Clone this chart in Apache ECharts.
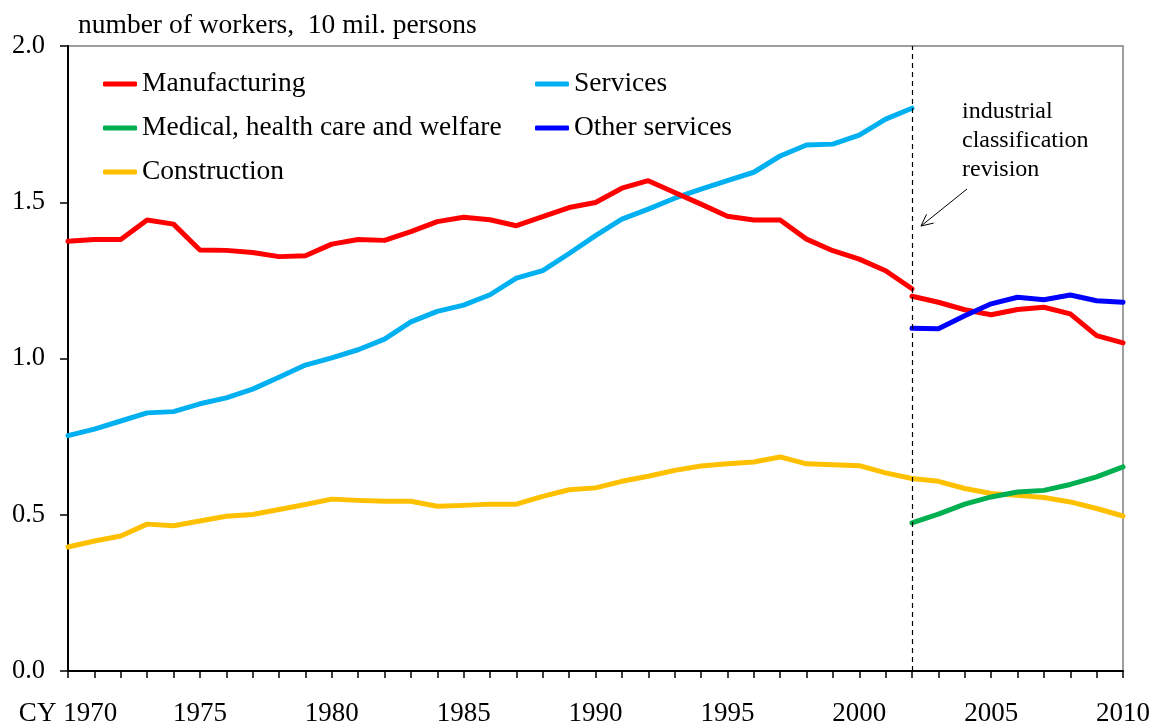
<!DOCTYPE html>
<html>
<head>
<meta charset="utf-8">
<script src="https://cdn.jsdelivr.net/npm/echarts@6/dist/echarts.min.js"></script>
<style>
  html, body { margin: 0; padding: 0; background: #fff; }
  #chart { width: 1155px; height: 722px; }
</style>
</head>
<body>
<div id="chart"></div>
<script>
// years on the x axis
const years = [];
for (let y = 1970; y <= 2010; y++) years.push(String(y));

// 10 mil. persons, old classification 1970-2002
const manufacturingOld = [1.375, 1.381, 1.381, 1.443, 1.430, 1.347, 1.346, 1.339, 1.326, 1.329,
  1.366, 1.381, 1.378, 1.406, 1.438, 1.452, 1.444, 1.425, 1.454, 1.483,
  1.499, 1.545, 1.569, 1.531, 1.494, 1.455, 1.443, 1.443, 1.382, 1.345,
  1.318, 1.281, 1.223];
const services = [0.753, 0.774, 0.800, 0.826, 0.830, 0.855, 0.874, 0.902, 0.940, 0.979,
  1.002, 1.028, 1.062, 1.117, 1.151, 1.171, 1.204, 1.257, 1.281, 1.336,
  1.393, 1.446, 1.478, 1.513, 1.542, 1.569, 1.596, 1.648, 1.683, 1.686,
  1.715, 1.766, 1.801];

// new classification 2002-2010
const manufacturingNew = [1.199, 1.180, 1.156, 1.140, 1.157, 1.164, 1.143, 1.073, 1.050];
const otherServices = [1.097, 1.095, 1.137, 1.175, 1.196, 1.188, 1.203, 1.185, 1.180];
const medical = [0.474, 0.502, 0.534, 0.557, 0.573, 0.578, 0.597, 0.621, 0.653];

// 1970-2010
const construction = [0.397, 0.416, 0.432, 0.470, 0.465, 0.480, 0.495, 0.501, 0.517, 0.533,
  0.550, 0.546, 0.543, 0.543, 0.527, 0.530, 0.534, 0.534, 0.559, 0.580,
  0.586, 0.607, 0.623, 0.642, 0.656, 0.663, 0.669, 0.685, 0.663, 0.660,
  0.657, 0.634, 0.616, 0.607, 0.584, 0.568, 0.562, 0.555, 0.541, 0.520,
  0.496];

const yTicks = [0, 0.5, 1.0, 1.5, 2.0];
const revisionYear = '2002';

const FONT = 'Liberation Serif';
const revIdx = years.indexOf(revisionYear);
const padEnd = arr => arr.concat(new Array(years.length - arr.length).fill(null));
const padStart = arr => new Array(revIdx).fill(null).concat(arr);

const lineSeries = (name, data, color) => ({
  name,
  type: 'line',
  data,
  symbol: 'none',
  connectNulls: false,
  lineStyle: { color, width: 5, cap: 'round', join: 'round' },
  itemStyle: { color },
  emphasis: { disabled: true }
});

const chart = echarts.init(document.getElementById('chart'), null, { renderer: 'canvas' });

// arrow pointing at the revision line
const arrowFrom = [967, 189];
const arrowTo = [921, 226];
const ang = Math.atan2(arrowTo[1] - arrowFrom[1], arrowTo[0] - arrowFrom[0]);
const headLen = 13;
const head = [
  [arrowTo[0] - headLen * Math.cos(ang - 0.45), arrowTo[1] - headLen * Math.sin(ang - 0.45)],
  arrowTo,
  [arrowTo[0] - headLen * Math.cos(ang + 0.45), arrowTo[1] - headLen * Math.sin(ang + 0.45)]
];

const legendText = { fontFamily: FONT, fontSize: 27.5, color: '#000', lineHeight: 27 };

chart.setOption({
  animation: false,
  backgroundColor: '#fff',
  grid: {
    left: 68, right: 32, top: 46, bottom: 51,
    outerBoundsMode: 'none',
    containLabel: false,
    show: true, borderColor: '#7f7f7f', borderWidth: 1.5, backgroundColor: 'transparent'
  },
  legend: [
    {
      orient: 'vertical', left: 103, top: 70, itemGap: 16, padding: 0,
      itemWidth: 34, itemHeight: 5, icon: 'roundRect',
      data: ['Manufacturing', 'Medical, health care and welfare', 'Construction'],
      textStyle: legendText
    },
    {
      orient: 'vertical', left: 535, top: 70, itemGap: 16, padding: 0,
      itemWidth: 34, itemHeight: 5, icon: 'roundRect',
      data: ['Services', 'Other services'],
      textStyle: legendText
    }
  ],
  xAxis: {
    type: 'category',
    data: years,
    boundaryGap: false,
    axisLine: { lineStyle: { color: '#000', width: 2 } },
    axisTick: { interval: 0, inside: false, length: 7, lineStyle: { color: '#000', width: 1.5 } },
    axisLabel: {
      interval: 4,
      margin: 29,
      hideOverlap: false,
      fontFamily: FONT, fontSize: 27, color: '#000',
      formatter: v => (v === years[0] ? 'CY ' + v : v)
    },
    splitLine: { show: false }
  },
  yAxis: {
    type: 'value',
    min: yTicks[0],
    max: yTicks[yTicks.length - 1],
    interval: yTicks[1] - yTicks[0],
    axisLine: { show: true, lineStyle: { color: '#000', width: 2 } },
    axisTick: { show: true, inside: false, length: 8, lineStyle: { color: '#000', width: 1.5 } },
    axisLabel: {
      margin: 23,
      fontFamily: FONT, fontSize: 26.5, color: '#000',
      formatter: v => v.toFixed(1)
    },
    splitLine: { show: false }
  },
  series: [
    Object.assign(lineSeries('Services', padEnd(services), '#00B0F0'), {
      markLine: {
        silent: true,
        symbol: 'none',
        label: { show: false },
        lineStyle: { color: '#000', width: 1.2, type: [5, 4] },
        data: [{ xAxis: revisionYear }]
      }
    }),
    lineSeries('Manufacturing', padEnd(manufacturingOld), '#FF0000'),
    lineSeries('Manufacturing (new classification)', padStart(manufacturingNew), '#FF0000'),
    lineSeries('Construction', construction, '#FFC000'),
    lineSeries('Medical, health care and welfare', padStart(medical), '#00B050'),
    lineSeries('Other services', padStart(otherServices), '#0000FF')
  ],
  graphic: [
    {
      type: 'text', left: 78, top: 12,
      style: { text: 'number of workers,  10 mil. persons', font: '27.5px "' + FONT + '"', fill: '#000' }
    },
    {
      type: 'text', left: 962, top: 97,
      style: {
        text: 'industrial\nclassification\nrevision',
        font: '24px "' + FONT + '"', lineHeight: 29, fill: '#000'
      }
    },
    {
      type: 'line', silent: true,
      shape: { x1: arrowFrom[0], y1: arrowFrom[1], x2: arrowTo[0], y2: arrowTo[1] },
      style: { stroke: '#000', lineWidth: 1 }
    },
    {
      type: 'polyline', silent: true,
      shape: { points: head },
      style: { stroke: '#000', lineWidth: 1, fill: null }
    }
  ]
});
</script>
</body>
</html>
